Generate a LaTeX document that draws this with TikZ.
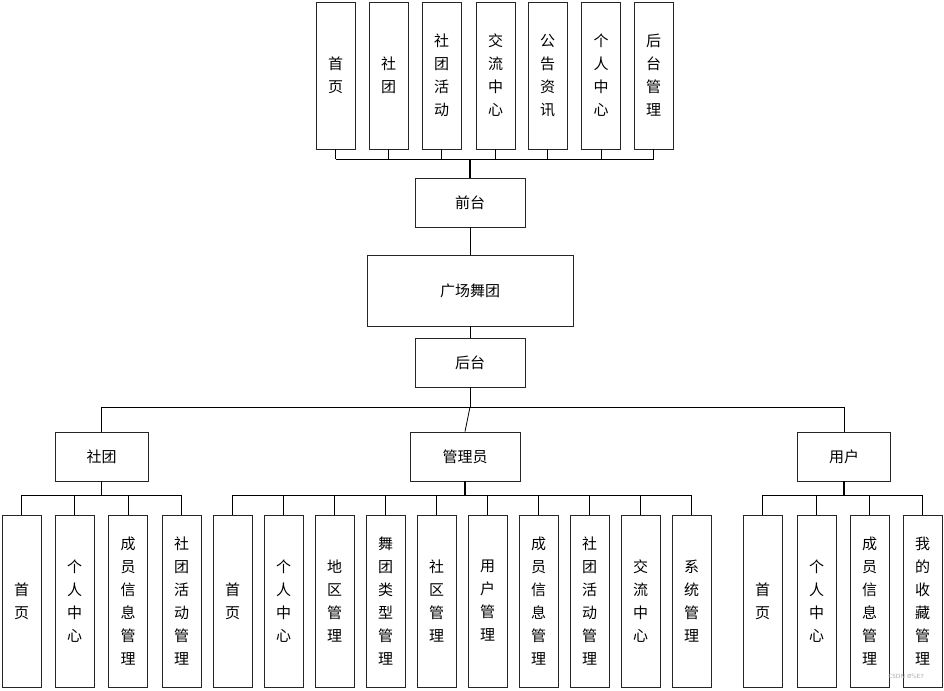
\documentclass[tikz,border=0pt]{standalone}
\usepackage{fontspec}
\newfontfamily\cjk{Noto Sans CJK SC}
\begin{document}
\begin{tikzpicture}[x=1pt,y=-1pt,
  box/.style={draw=black!85,line width=0.8pt,inner sep=0pt,align=center,font=\cjk\fontsize{15}{23}\selectfont},
  vtop/.style={box,minimum width=39pt,minimum height=147pt},
  vbot/.style={box,minimum width=39pt,minimum height=172pt},
  hbox/.style={box,minimum width=110pt,minimum height=49pt},
  gbox/.style={box,minimum width=93pt,minimum height=49pt},
  conn/.style={draw=black,line width=0.8pt},
  trunk/.style={draw=black,line width=1.3pt}]
\useasboundingbox (0,0) rectangle (944,690);
% top row
\node[vtop] (t1) at (335.5,75.5) {首\\页};
\node[vtop] (t2) at (388.5,75.5) {社\\团};
\node[vtop] (t3) at (441.5,75.5) {社\\团\\活\\动};
\node[vtop] (t4) at (495.5,75.5) {交\\流\\中\\心};
\node[vtop] (t5) at (547.5,75.5) {公\\告\\资\\讯};
\node[vtop] (t6) at (601,75.5) {个\\人\\中\\心};
\node[vtop] (t7) at (653.5,75.5) {后\\台\\管\\理};
\node[hbox] (qt) at (470,202.5) {前台};
\node[box,minimum width=206pt,minimum height=71pt] (gc) at (470,290.5) {广场舞团};
\node[hbox] (ht) at (470,362.5) {后台};
% middle groups
\node[gbox] (st) at (101.5,456.5) {社团};
\node[hbox] (gl) at (465,456.5) {管理员};
\node[gbox] (yh) at (844,456.5) {用户};
% bottom: 社团
\node[vbot] (a1) at (21.5,601) {首\\页};
\node[vbot] (a2) at (74.5,601) {个\\人\\中\\心};
\node[vbot] (a3) at (128,601) {成\\员\\信\\息\\管\\理};
\node[vbot] (a4) at (181.5,601) {社\\团\\活\\动\\管\\理};
% bottom: 管理员
\node[vbot] (b1) at (232.5,601) {首\\页};
\node[vbot] (b2) at (283.5,601) {个\\人\\中\\心};
\node[vbot] (b3) at (334.5,601) {地\\区\\管\\理};
\node[vbot] (b4) at (385.5,601) {舞\\团\\类\\型\\管\\理};
\node[vbot] (b5) at (436.5,601) {社\\区\\管\\理};
\node[vbot] (b6) at (487.5,601) {用\\户\\管\\理};
\node[vbot] (b7) at (538.5,601) {成\\员\\信\\息\\管\\理};
\node[vbot] (b8) at (589.5,601) {社\\团\\活\\动\\管\\理};
\node[vbot] (b9) at (640.5,601) {交\\流\\中\\心};
\node[vbot] (b10) at (691.5,601) {系\\统\\管\\理};
% bottom: 用户
\node[vbot] (c1) at (762.5,601) {首\\页};
\node[vbot] (c2) at (816.5,601) {个\\人\\中\\心};
\node[vbot] (c3) at (869.5,601) {成\\员\\信\\息\\管\\理};
\node[vbot] (c4) at (922.5,601) {我\\的\\收\\藏\\管\\理};
% watermark
\node[font=\sffamily\fontsize{6}{6}\selectfont,text=black!35] (wm) at (906,676) {CSDN @\%E7};
% top connectors
\coordinate (busT) at (470,159);
\foreach \n in {t1,t2,t3,t4,t5,t6,t7} \draw[conn] (\n.south) -- (\n.south |- busT);
\draw[conn] (t1.south |- busT) -- (t7.south |- busT);
\draw[trunk] (busT) -- (qt.north);
\draw[conn] (qt.south) -- (gc.north);
\draw[conn] (gc.south) -- (ht.north);
% middle bus
\coordinate (busM) at (470,407);
\draw[conn] (ht.south) -- (busM);
\draw[conn] (st.north |- busM) -- (yh.north |- busM);
\draw[conn] (st.north |- busM) -- (st.north);
\draw[conn] (busM) -- (gl.north);
\draw[conn] (yh.north |- busM) -- (yh.north);
% bottom buses
\coordinate (busA) at (101.5,495);
\coordinate (busB) at (465,495);
\coordinate (busC) at (844,495);
\draw[trunk] (st.south) -- (busA);
\draw[trunk] (gl.south) -- (busB);
\draw[trunk] (yh.south) -- (busC);
\draw[conn] (a1.north |- busA) -- (a4.north |- busA);
\draw[conn] (b1.north |- busB) -- (b10.north |- busB);
\draw[conn] (c1.north |- busC) -- (c4.north |- busC);
\foreach \n in {a1,a2,a3,a4} \draw[conn] (\n.north |- busA) -- (\n.north);
\foreach \n in {b1,b2,b3,b4,b5,b6,b7,b8,b9,b10} \draw[conn] (\n.north |- busB) -- (\n.north);
\foreach \n in {c1,c2,c3,c4} \draw[conn] (\n.north |- busC) -- (\n.north);
\end{tikzpicture}
\end{document}
